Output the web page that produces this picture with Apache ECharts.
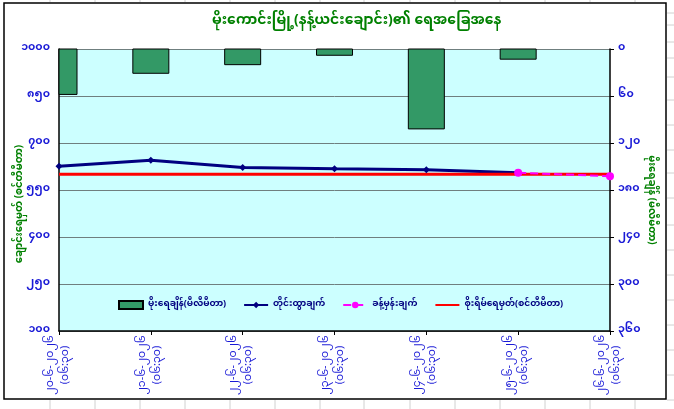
<!DOCTYPE html>
<html>
<head>
<meta charset="utf-8">
<script src="https://cdn.jsdelivr.net/npm/echarts@6/dist/echarts.min.js"></script>
<style>
  html, body { margin: 0; padding: 0; background: #fff; }
  #main { width: 674px; height: 409px; }
</style>
</head>
<body>
<div id="main"></div>
<script>
// ရက်စွဲ / အချိန်
var dates = ['၂၀-၆-၂၀၂၆', '၂၁-၆-၂၀၂၆', '၂၂-၆-၂၀၂၆', '၂၃-၆-၂၀၂၆', '၂၄-၆-၂၀၂၆', '၂၅-၆-၂၀၂၆', '၂၆-၆-၂၀၂၆'];
var times = ['(၀၆:၃၀)', '(၀၆:၃၀)', '(၀၆:၃၀)', '(၀၆:၃၀)', '(၀၆:၃၀)', '(၀၆:၃၀)', '(၀၆:၃၀)'];

// မိုးရေချိန် (mm) - right axis, inverted
var rainfall = [58, 31, 20, 8, 102, 13, null];
// water level (cm) - left axis
var measured = [626, 645, 622, 618, 615, 605, null];
var forecast = [null, null, null, null, null, 605, 594];
var danger = [600, 600, 600, 600, 600, 600, 600];

var levelTicks = [100, 250, 400, 550, 700, 850, 1000];
var rainTicks = [0, 60, 120, 180, 240, 300, 360];

var levelBase = levelTicks[0]; // left axis starts at 100, ticks every 150

function mmDigits(v) {
  return String(v).replace(/[0-9]/g, function (d) {
    return String.fromCharCode(0x1040 + Number(d));
  });
}
function shift(arr) {
  return arr.map(function (v) { return v == null ? null : v - levelBase; });
}

var categories = dates.map(function (d, i) { return d + '\n' + times[i]; });

var blue = '#1a1ad6';
var green = '#008000';
var barGreen = '#339966';

// bars hang from the top of the inverted rain axis; the first one sits on the
// plot edge so it has to be cut at the grid like in the excel chart
function renderRain(params, api) {
  var v = api.value(1);
  if (v == null || isNaN(v)) return;
  var p0 = api.coord([api.value(0), 0]);
  var p1 = api.coord([api.value(0), v]);
  var w = 36;
  var cs = params.coordSys;
  var shape = echarts.graphic.clipRectByRect(
    { x: p0[0] - w / 2, y: p0[1], width: w, height: p1[1] - p0[1] },
    { x: cs.x, y: cs.y, width: cs.width, height: cs.height }
  );
  if (!shape) return;
  return {
    type: 'rect',
    shape: shape,
    style: { fill: barGreen, stroke: '#000', lineWidth: 1 }
  };
}

var option = {
  backgroundColor: '#fff',
  animation: false,
  textStyle: { fontFamily: '"Noto Sans Myanmar", "Noto Sans", sans-serif' },
  title: {
    text: 'မိုးကောင်းမြို့(နန့်ယင်းချောင်း)၏ ရေအခြေအနေ',
    left: 207,
    top: 11,
    textStyle: { color: green, fontSize: 14, fontWeight: 'bold' }
  },
  legend: {
    left: 113,
    top: 295,
    itemGap: 17,
    itemWidth: 24,
    itemHeight: 8,
    textStyle: { color: '#000080', fontSize: 9, fontWeight: 'bold' },
    data: [
      { name: 'မိုးရေချိန်(မီလီမီတာ)', icon: 'rect' },
      'တိုင်းထွာချက်',
      'ခန့်မှန်းချက်',
      { name: 'စိုးရိမ်ရေမှတ်(စင်တီမီတာ)', itemStyle: { opacity: 0 } }
    ]
  },
  grid: {
    left: 59, right: 64, top: 49, bottom: 78,
    outerBoundsMode: 'none',
    show: true, backgroundColor: '#ccffff', borderWidth: 0
  },
  xAxis: {
    type: 'category',
    boundaryGap: false,
    data: categories,
    axisLine: { lineStyle: { color: '#000', width: 1.5 } },
    axisTick: { show: true, length: 4, lineStyle: { color: '#000' } },
    axisLabel: {
      rotate: 90, align: 'center', color: blue, fontSize: 11, lineHeight: 15, margin: 34,
      interval: 0
    }
  },
  yAxis: [
    {
      type: 'value',
      name: 'ချောင်းရေမှတ် (စင်တီမီတာ)',
      nameLocation: 'middle',
      nameGap: 33,
      nameMoveOverlap: false,
      nameTextStyle: { color: green, fontSize: 10, fontWeight: 'bold', padding: [0, 28, 0, 0] },
      min: 0,
      max: levelTicks[levelTicks.length - 1] - levelBase,
      interval: levelTicks[1] - levelTicks[0],
      axisLine: { show: true, lineStyle: { color: '#000', width: 1.5 } },
      axisTick: { show: false },
      axisLabel: {
        color: blue, fontSize: 11, fontWeight: 'bold', margin: 9,
        formatter: function (v) { return mmDigits(v + levelBase); }
      },
      splitLine: { lineStyle: { color: '#6f7f7f', width: 1 } }
    },
    {
      type: 'value',
      name: 'မိုးရေချိန် (မီလီမီတာ)',
      nameLocation: 'middle',
      nameRotate: -90,
      nameGap: 35,
      nameMoveOverlap: false,
      nameTextStyle: { color: green, fontSize: 10, fontWeight: 'bold', padding: [0, 0, 0, 20] },
      inverse: true,
      min: rainTicks[0],
      max: rainTicks[rainTicks.length - 1],
      interval: rainTicks[1] - rainTicks[0],
      axisLine: { show: true, lineStyle: { color: '#000', width: 1.5 } },
      axisTick: { show: true, length: 4, lineStyle: { color: '#000' } },
      axisLabel: {
        color: blue, fontSize: 11, fontWeight: 'bold', margin: 8,
        formatter: function (v) { return mmDigits(v); }
      },
      splitLine: { show: false }
    }
  ],
  series: [
    {
      name: 'မိုးရေချိန်(မီလီမီတာ)',
      type: 'custom',
      yAxisIndex: 1,
      renderItem: renderRain,
      encode: { x: 0, y: 1 },
      itemStyle: { color: barGreen, borderColor: '#000', borderWidth: 1 },
      data: rainfall.map(function (v, i) { return [i, v]; })
    },
    {
      name: 'တိုင်းထွာချက်',
      type: 'line',
      yAxisIndex: 0,
      symbol: 'diamond',
      symbolSize: 7,
      lineStyle: { color: '#000080', width: 3 },
      itemStyle: { color: '#000080' },
      data: shift(measured)
    },
    {
      name: 'စိုးရိမ်ရေမှတ်(စင်တီမီတာ)',
      type: 'line',
      yAxisIndex: 0,
      symbol: 'none',
      lineStyle: { color: '#ff0000', width: 3 },
      itemStyle: { color: '#ff0000' },
      data: shift(danger)
    },
    {
      name: 'ခန့်မှန်းချက်',
      type: 'line',
      yAxisIndex: 0,
      symbol: 'circle',
      symbolSize: 8,
      lineStyle: { color: '#ff00ff', width: 2, type: 'dashed' },
      itemStyle: { color: '#ff00ff' },
      data: shift(forecast)
    }
  ],
  graphic: [
    {
      type: 'rect', silent: true, z: -1,
      shape: { x: 4, y: 3, width: 662, height: 396 },
      style: { fill: null, stroke: '#000', lineWidth: 1.5 }
    }
  ]
};

// excel sheet grid showing round the chart frame
[50, 95, 140, 185, 230, 275, 320, 364, 410, 455, 500, 545, 590, 635].forEach(function (x) {
  option.graphic.push({ type: 'line', silent: true, shape: { x1: x, y1: 0, x2: x, y2: 2 }, style: { stroke: '#d0d0d0' } });
  option.graphic.push({ type: 'line', silent: true, shape: { x1: x, y1: 400, x2: x, y2: 409 }, style: { stroke: '#d0d0d0' } });
});
[13, 25, 42, 58, 77, 100, 125, 150, 173, 198, 225, 250, 275, 300, 325, 350, 375, 400].forEach(function (y) {
  option.graphic.push({ type: 'line', silent: true, shape: { x1: 667, y1: y, x2: 674, y2: y }, style: { stroke: '#d0d0d0' } });
});

var chart = echarts.init(document.getElementById('main'), null, { width: 674, height: 409 });
chart.setOption(option);
</script>
</body>
</html>
